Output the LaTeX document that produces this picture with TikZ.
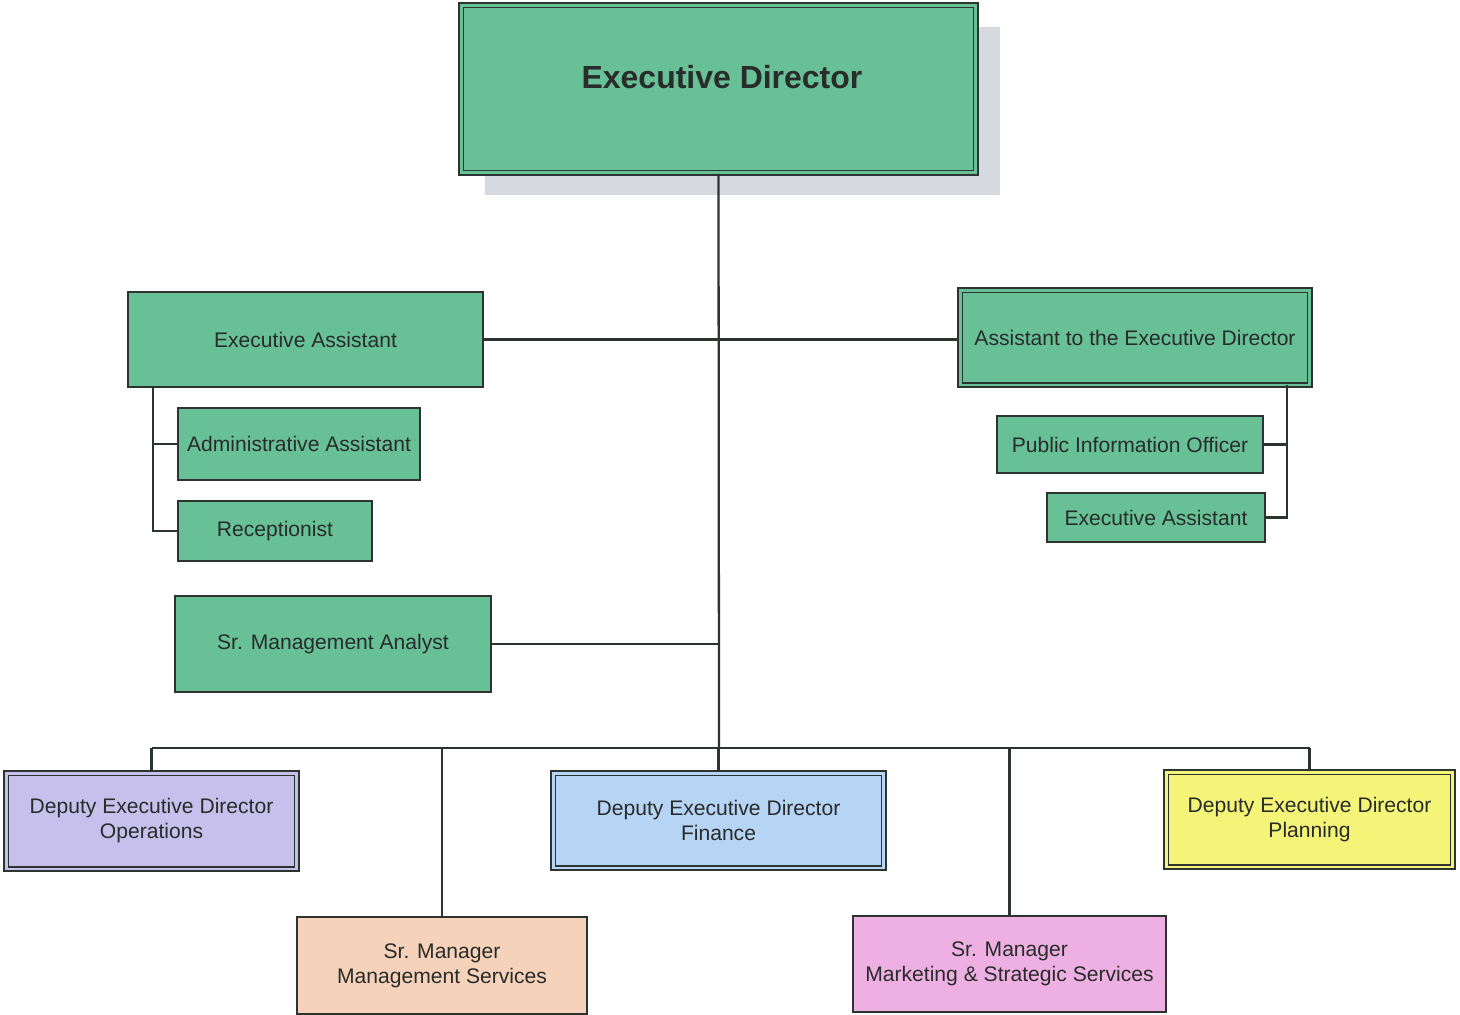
\documentclass[tikz,border=0pt]{standalone}
\usepackage{fontspec}
\setmainfont{Liberation Sans}
\usetikzlibrary{shadows}

\definecolor{boxgreen}{RGB}{104,192,150}
\definecolor{boxlilac}{RGB}{200,192,236}
\definecolor{boxblue}{RGB}{182,212,244}
\definecolor{boxyellow}{RGB}{244,244,120}
\definecolor{boxpeach}{RGB}{246,210,186}
\definecolor{boxpink}{RGB}{238,176,226}
\definecolor{shadowgray}{RGB}{214,218,224}
\definecolor{inkline}{RGB}{45,52,48}
\definecolor{inktext}{RGB}{40,44,42}

\tikzset{
  orgbox/.style={draw=inkline, line width=1.2pt, inner sep=0pt, align=center,
    text=inktext, font=\fontsize{12}{14.2}\selectfont},
  dblbox/.style={orgbox, line width=0.95pt, double distance=1.7pt},
  link/.style={draw=inkline, line width=1.3pt},
}

\begin{document}
\begin{tikzpicture}[x=0.02cm, y=-0.02cm]
  % page frame
  \fill[white] (0,0) rectangle (1460,1014);
  \useasboundingbox (0,0) rectangle (1460,1014);

  % top of the chart
  \node[dblbox, fill=boxgreen, double=boxgreen, minimum width=10.30cm, minimum height=3.36cm,
        drop shadow={shadow xshift=0.48cm, shadow yshift=-0.44cm, fill=shadowgray, opacity=1}]
        (ed) at (718.5,89) {};
  \node[text=inktext, font=\fontsize{18.2}{22}\selectfont\bfseries] (edtext) at (722,77) {Executive Director};

  % staff on the left
  \node[orgbox, fill=boxgreen, minimum width=7.10cm, minimum height=1.90cm] (eal) at (305.5,339.5) {Executive Assistant};
  \node[orgbox, fill=boxgreen, minimum width=4.84cm, minimum height=1.44cm] (aa) at (299,444) {Administrative Assistant};
  \node[orgbox, fill=boxgreen, minimum width=3.88cm, minimum height=1.20cm] (rec) at (275,531) {Receptionist};
  \node[orgbox, fill=boxgreen, minimum width=6.32cm, minimum height=1.92cm] (sma) at (333,644) {Sr. Management Analyst};

  % staff on the right
  \node[dblbox, fill=boxgreen, double=boxgreen, minimum width=7.00cm, minimum height=1.90cm] (aed) at (1135,337.5) {Assistant to the Executive Director};
  \node[orgbox, fill=boxgreen, minimum width=5.32cm, minimum height=1.14cm] (pio) at (1130,444.5) {Public Information Officer};
  \node[orgbox, fill=boxgreen, minimum width=4.36cm, minimum height=0.98cm] (ear) at (1156,517.5) {Executive Assistant};

  % deputies
  \node[dblbox, fill=boxlilac, double=boxlilac, minimum width=5.82cm, minimum height=1.92cm] (ops) at (151.5,821) {Deputy Executive Director\\Operations};
  \node[dblbox, fill=boxblue, double=boxblue, minimum width=6.62cm, minimum height=1.90cm] (fin) at (718.5,820.5) {Deputy Executive Director\\Finance};
  \node[dblbox, fill=boxyellow, double=boxyellow, minimum width=5.74cm, minimum height=1.90cm] (pln) at (1309.5,819.5) {Deputy Executive Director\\Planning};

  % senior managers
  \node[orgbox, fill=boxpeach, minimum width=5.80cm, minimum height=1.94cm] (sms) at (442,965.5) {Sr. Manager\\Management Services};
  \node[orgbox, fill=boxpink, minimum width=6.26cm, minimum height=1.92cm] (mkt) at (1009.5,964) {Sr. Manager\\Marketing \& Strategic Services};

  % junction points
  \coordinate (bus) at (719,748);
  \coordinate (eatap) at (153,387);
  \coordinate (aedtap) at (1287,385);

  % main trunk and staff lines
  \draw[link] (ed.south) -- (bus);
  \draw[link] (eal.east) -- (eal.east -| aed.west);
  \draw[link] (sma.east) -- (sma.east -| bus);

  % left staff spine
  \draw[link] (eatap) |- (rec.west);
  \draw[link] (aa.west) -- (aa.west -| eatap);

  % right staff spine
  \draw[link] (aedtap) |- (ear.east);
  \draw[link] (pio.east) -- (pio.east -| aedtap);

  % bus to the lower tier
  \draw[link] (ops.north |- bus) -- (pln.north |- bus);
  \draw[link] (ops.north) -- (ops.north |- bus);
  \draw[link] (sms.north) -- (sms.north |- bus);
  \draw[link] (fin.north) -- (fin.north |- bus);
  \draw[link] (mkt.north) -- (mkt.north |- bus);
  \draw[link] (pln.north) -- (pln.north |- bus);
\end{tikzpicture}
\end{document}
